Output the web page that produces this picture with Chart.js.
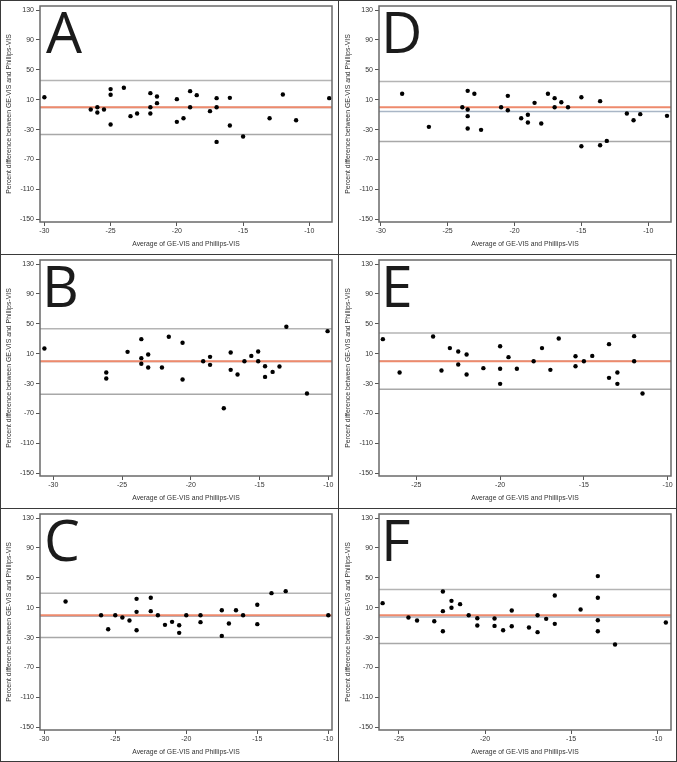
<!DOCTYPE html>
<html>
<head>
<meta charset="utf-8">
<script src="https://cdn.jsdelivr.net/npm/chart.js@4/dist/chart.umd.min.js"></script>
<style>
  html, body { margin: 0; padding: 0; background: #ffffff; }
  #wrap { position: relative; width: 677px; height: 762px; background: #fff; overflow: hidden; }
  .panel { position: absolute; width: 338px; height: 254px; }
  .panel canvas { position: absolute; left: 0; top: 0; }
  .letter { position: absolute; font-family: "Open Sans", "Noto Sans", sans-serif; font-size: 57px; line-height: 56px; color: #1b1b1b; font-weight: 400; }
  .rule { position: absolute; background: #3a3a3a; }
</style>
</head>
<body>
<div id="wrap"></div>
<script>
// ---- Data ----
const xTicks = [-30, -25, -20, -15, -10];
const yTicks = [130, 90, 50, 10, -30, -70, -110, -150];
const yTitle = "Percent difference between GE-VIS and Phillips-VIS";
const xTitle = "Average of GE-VIS and Phillips-VIS";

// Panel A
const aX = [-30.0, -26.5, -26.0, -26.0, -25.5, -25.0, -25.0, -25.0, -24.0, -23.5, -23.0, -22.0, -22.0, -22.0, -21.5, -21.5, -20.0, -20.0, -19.5, -19.0, -19.0, -18.5, -17.5, -17.0, -17.0, -17.0, -16.0, -16.0, -15.0, -13.0, -12.0, -11.0, -8.5];
const aY = [13.4, -3.1, 0.0, -7.1, -3.1, 24.2, 16.6, -23.2, 26.0, -12.0, -8.4, 18.8, 0.0, -8.4, 14.3, 5.4, 10.8, -19.6, -14.7, 21.5, 0.0, 16.1, -5.3, 12.1, 0.0, -46.4, 12.5, -24.5, -39.3, -14.7, 17.0, -17.4, 12.1];
const aLimits = [35.8, -0.4, -36.6];   // upper, mean, lower
const aRange = [-30.33, -8.29];

// Panel D
const dX = [-28.4, -26.4, -23.9, -23.5, -23.5, -23.5, -23.5, -23.0, -22.5, -21.0, -20.5, -20.5, -19.5, -19.0, -19.0, -18.5, -18.0, -17.5, -17.0, -17.0, -16.5, -16.0, -15.0, -15.0, -13.6, -13.6, -13.1, -11.6, -11.1, -10.6, -8.6];
const dY = [17.9, -26.3, 0.0, 21.9, -3.1, -12.0, -28.5, 17.9, -30.3, 0.0, 15.2, -4.0, -14.7, -10.2, -20.5, 5.8, -21.8, 17.9, 12.1, 0.0, 6.7, 0.0, 13.4, -52.2, 8.1, -50.9, -45.1, -8.4, -17.4, -9.3, -11.6];
const dLimits = [34.4, -5.8, -46.0];
const dRange = [-30.13, -8.3];

// Panel B
const bX = [-30.65, -26.15, -26.15, -24.6, -23.6, -23.6, -23.6, -23.1, -23.1, -22.1, -21.6, -20.6, -20.6, -19.1, -18.6, -18.6, -17.6, -17.1, -17.1, -16.6, -16.1, -15.6, -15.1, -15.1, -14.6, -14.6, -14.05, -13.55, -13.05, -11.55, -10.05];
const bY = [17.0, -15.1, -23.2, 12.5, 29.5, 4.1, -3.5, 9.0, -8.4, -8.4, 32.7, 24.6, -24.5, 0.0, 5.8, -4.9, -62.9, 11.7, -11.6, -17.8, 0.0, 7.1, 13.0, 0.0, -6.7, -21.0, -14.3, -7.1, 46.0, -43.3, 40.2];
const bLimits = [43.4, -0.4, -44.2];
const bRange = [-30.97, -9.73];

// Panel E
const eX = [-27.0, -26.0, -24.0, -23.5, -23.0, -22.5, -22.5, -22.0, -22.0, -21.0, -20.0, -20.0, -20.0, -19.5, -19.0, -18.0, -17.5, -17.0, -16.5, -15.5, -15.5, -15.0, -14.5, -13.5, -13.5, -13.0, -13.0, -12.0, -12.0, -11.5];
const eY = [29.5, -15.1, 33.1, -12.4, 17.5, 13.0, -4.4, 9.0, -17.8, -9.3, 20.1, -10.2, -30.3, 5.4, -10.2, 0.0, 17.5, -11.6, 30.4, 6.7, -6.7, 0.0, 7.1, 22.8, -22.3, -15.1, -30.3, 33.5, 0.0, -43.3];
const eLimits = [37.6, 0.0, -37.5];
const eRange = [-27.23, -9.8];

// Panel C
const cX = [-28.5, -26.0, -25.5, -25.0, -24.5, -24.0, -23.5, -23.5, -23.5, -22.5, -22.5, -22.0, -21.5, -21.0, -20.5, -20.5, -20.0, -19.0, -19.0, -17.5, -17.5, -17.0, -16.5, -16.0, -15.0, -15.0, -14.0, -13.0, -10.0];
const cY = [18.4, 0.0, -18.7, 0.0, -3.1, -7.1, 21.9, 4.5, -20.1, 23.3, 5.4, 0.0, -12.9, -8.9, -13.4, -23.6, 0.0, 0.0, -9.3, 6.7, -27.7, -11.1, 6.7, 0.0, 13.9, -12.0, 29.5, 32.2, 0.0];
const cLimits = [29.5, -1.5, -29.9];
const cRange = [-30.3, -9.74];

// Panel F
const fX = [-25.95, -24.45, -23.95, -22.95, -22.45, -22.45, -22.45, -21.95, -21.95, -21.45, -20.95, -20.45, -20.45, -19.45, -19.45, -18.95, -18.45, -18.45, -17.45, -16.95, -16.95, -16.45, -15.95, -15.95, -14.45, -13.45, -13.45, -13.45, -13.45, -12.45, -9.5];
const fY = [16.1, -3.1, -7.1, -8.0, 31.7, 5.4, -21.4, 19.2, 9.9, 14.8, 0.0, -4.0, -13.8, -4.4, -14.3, -20.1, 6.3, -14.7, -16.5, 0.0, -22.7, -4.9, 26.4, -11.6, 7.6, 52.3, 23.3, -6.7, -21.4, -39.3, -9.8];
const fLimits = [34.4, -2.5, -37.9];
const fRange = [-26.16, -9.2];

const yRange = [-153.6, 135.4];

// ---- Layout ----
const panels = [
  { letter: "A", x: aX, y: aY, lim: aLimits, range: aRange, left: 0,   top: 0,   lx: 46 },
  { letter: "D", x: dX, y: dY, lim: dLimits, range: dRange, left: 339, top: 0,   lx: 42 },
  { letter: "B", x: bX, y: bY, lim: bLimits, range: bRange, left: 0,   top: 254, lx: 42 },
  { letter: "E", x: eX, y: eY, lim: eLimits, range: eRange, left: 339, top: 254, lx: 42 },
  { letter: "C", x: cX, y: cY, lim: cLimits, range: cRange, left: 0,   top: 508, lx: 44 },
  { letter: "F", x: fX, y: fY, lim: fLimits, range: fRange, left: 339, top: 508, lx: 42 }
];

const wrap = document.getElementById("wrap");
const FONT = "'Liberation Sans', Arial, sans-serif";

const framePlugin = {
  id: "frame",
  afterDatasetsDraw(chart) {
    const a = chart.chartArea, ctx = chart.ctx;
    ctx.save();
    ctx.strokeStyle = "#6a6a6a";
    ctx.lineWidth = 1.5;
    ctx.strokeRect(a.left, a.top, a.right - a.left, a.bottom - a.top);
    ctx.restore();
  }
};

panels.forEach((p) => {
  const div = document.createElement("div");
  div.className = "panel";
  div.style.left = p.left + "px";
  div.style.top = p.top + "px";
  const cv = document.createElement("canvas");
  cv.width = 338; cv.height = 254;
  cv.style.width = "338px"; cv.style.height = "254px";
  div.appendChild(cv);
  const lt = document.createElement("div");
  lt.className = "letter";
  lt.textContent = p.letter;
  lt.style.left = p.lx + "px";
  lt.style.top = "3px";
  div.appendChild(lt);
  wrap.appendChild(div);

  const pts = p.x.map((v, i) => ({ x: v, y: p.y[i] }));
  const hline = (v) => [{ x: p.range[0], y: v }, { x: p.range[1], y: v }];

  new Chart(cv, {
    type: "scatter",
    data: {
      datasets: [
        { type: "line", data: hline(p.lim[0]), borderColor: "#b4b4b4", borderWidth: 1.5, pointRadius: 0, order: 5 },
        { type: "line", data: hline(p.lim[2]), borderColor: "#a8a8a8", borderWidth: 1.5, pointRadius: 0, order: 5 },
        { type: "line", data: hline(p.lim[1]), borderColor: "#a9b6c6", borderWidth: 1.5, pointRadius: 0, order: 4 },
        { type: "line", data: hline(0), borderColor: "#ee8a6c", borderWidth: 2, pointRadius: 0, order: 3 },
        { type: "scatter", data: pts, backgroundColor: "#000", borderColor: "#000", pointRadius: 2.2, borderWidth: 0, order: 1 }
      ]
    },
    options: {
      responsive: false,
      devicePixelRatio: 1,
      animation: false,
      events: [],
      layout: { padding: { top: 6, right: 6, left: 0, bottom: 0 } },
      plugins: { legend: { display: false }, tooltip: { enabled: false } },
      scales: {
        x: {
          type: "linear",
          min: p.range[0], max: p.range[1],
          afterBuildTicks: (s) => { s.ticks = xTicks.filter(v => v >= p.range[0] && v <= p.range[1]).map(v => ({ value: v })); },
          afterFit: (s) => { s.height = 32; s.paddingLeft = 0; s.paddingRight = 0; },
          border: { display: false },
          grid: { drawOnChartArea: false, drawTicks: true, tickLength: 4, color: "#555", lineWidth: 1 },
          ticks: { font: { family: FONT, size: 7 }, color: "#333", padding: 1, maxRotation: 0, autoSkip: false },
          title: { display: true, text: xTitle, font: { family: FONT, size: 6.8 }, color: "#333", padding: { top: 0, bottom: 6 } }
        },
        y: {
          type: "linear",
          min: yRange[0], max: yRange[1],
          afterBuildTicks: (s) => { s.ticks = yTicks.map(v => ({ value: v })); },
          afterFit: (s) => { s.width = 40; s.paddingTop = 0; s.paddingBottom = 0; },
          border: { display: false },
          grid: { drawOnChartArea: false, drawTicks: true, tickLength: 4, color: "#555", lineWidth: 1 },
          ticks: { font: { family: FONT, size: 7 }, color: "#333", padding: 2, autoSkip: false },
          title: { display: true, text: yTitle, font: { family: FONT, size: 6.9 }, color: "#333", padding: { top: 5, bottom: 0 } }
        }
      }
    },
    plugins: [framePlugin]
  });
});

// panel dividers and outer border
function rule(l, t, w, h) {
  const r = document.createElement("div");
  r.className = "rule";
  r.style.left = l + "px"; r.style.top = t + "px";
  r.style.width = w + "px"; r.style.height = h + "px";
  wrap.appendChild(r);
}
rule(338, 0, 1, 762);
rule(0, 254, 677, 1);
rule(0, 508, 677, 1);
rule(0, 0, 677, 1);
rule(0, 761, 677, 1);
rule(0, 0, 1, 762);
rule(676, 0, 1, 762);
</script>
</body>
</html>
